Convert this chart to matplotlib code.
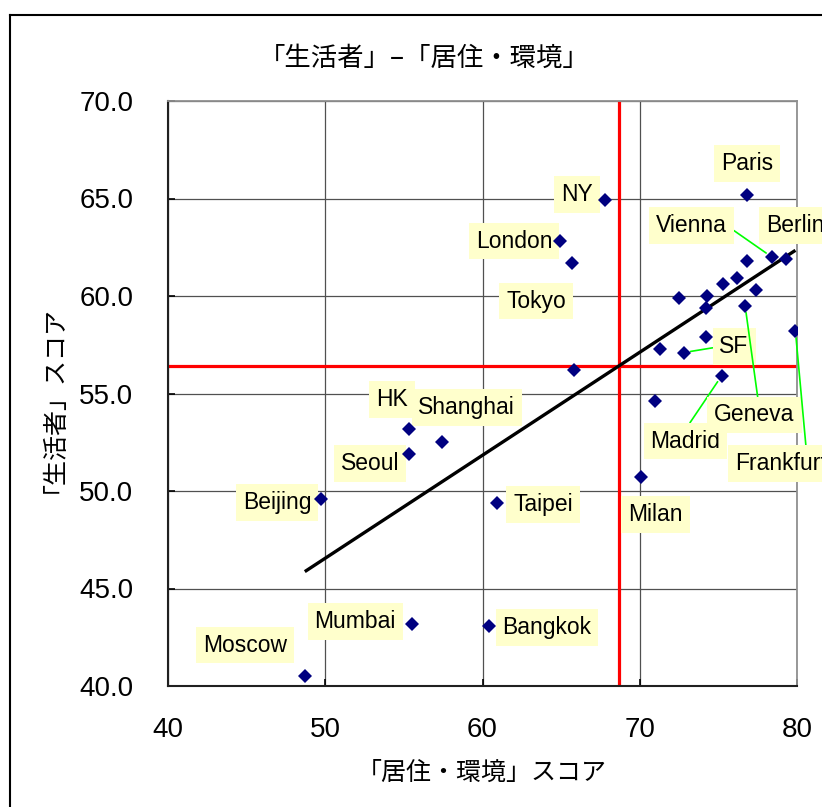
import numpy as np
import matplotlib
matplotlib.use("Agg")
import matplotlib.pyplot as plt
from matplotlib.lines import Line2D
from matplotlib.ticker import FormatStrFormatter, FixedLocator

# City scores: x = 居住・環境 score, y = 生活者 score ("" = unlabeled city)
cities = ["Paris", "NY", "London", "Tokyo", "", "HK", "Shanghai", "Seoul",
          "Beijing", "Taipei", "Mumbai", "Bangkok", "Moscow", "Milan", "",
          "Madrid", "", "SF", "", "", "", "", "", "", "", "Geneva", "",
          "Vienna", "Berlin", "Frankfurt"]
living_env = [76.8, 67.8, 64.9, 65.7, 65.8, 55.3, 57.4, 55.3, 49.7, 60.9,
              55.5, 60.4, 48.7, 70.1, 71.0, 75.2, 71.3, 72.8, 74.2, 72.5,
              74.2, 74.3, 75.3, 76.2, 77.4, 76.7, 76.8, 78.4, 79.3, 79.9]
resident = [65.2, 64.9, 62.8, 61.7, 56.2, 53.2, 52.5, 51.9, 49.6, 49.4,
            43.2, 43.1, 40.5, 50.7, 54.6, 55.9, 57.3, 57.1, 57.9, 59.9,
            59.4, 60.0, 60.6, 60.9, 60.3, 59.5, 61.8, 62.0, 61.9, 58.2]

x_ticks = [40, 50, 60, 70, 80]
y_ticks = [40.0, 45.0, 50.0, 55.0, 60.0, 65.0, 70.0]

title = "「生活者」–「居住・環境」"
x_label = "「居住・環境」スコア"
y_label = "「生活者」スコア"

# Where each city name box sits (data coordinates of the text centre)
label_pos = {
    "Paris": (76.82, 66.8), "NY": (66.0, 65.2), "London": (62.0, 62.82),
    "Tokyo": (63.4, 59.74), "Vienna": (73.3, 63.6), "Berlin": (79.9, 63.6),
    "SF": (76.0, 57.4), "Geneva": (77.3, 53.9), "Madrid": (72.9, 52.56),
    "Frankfurt": (78.97, 51.4), "Milan": (71.0, 48.8), "HK": (54.25, 54.7),
    "Shanghai": (59.0, 54.3), "Seoul": (52.85, 51.4), "Beijing": (46.93, 49.4),
    "Taipei": (63.85, 49.3), "Mumbai": (51.9, 43.3), "Bangkok": (64.1, 43.0),
    "Moscow": (44.9, 42.1),
}
# Leader lines: point on the box where the line leaves it
leader_relpos = {
    "Vienna": (1.0, 0.5), "SF": (0.0, 0.5), "Madrid": (0.5, 1.0),
    "Geneva": (0.55, 1.0), "Frankfurt": (0.78, 1.0),
}

JP = ["Noto Sans CJK JP", "DejaVu Sans"]
LATIN = ["Liberation Sans", "DejaVu Sans"]
plt.rcParams["font.family"] = LATIN

fig = plt.figure(figsize=(8.22, 8.07), dpi=100)
ax = fig.add_axes([168 / 822, 1 - 686 / 807, (797 - 168) / 822, (686 - 101) / 807])

x = np.array(living_env)
y = np.array(resident)

ax.set_xlim(40, 80)
ax.set_ylim(40, 70)
ax.xaxis.set_major_locator(FixedLocator(x_ticks))
ax.yaxis.set_major_locator(FixedLocator(y_ticks))
ax.yaxis.set_major_formatter(FormatStrFormatter("%.1f"))
ax.grid(True, color="#505050", lw=0.9, zorder=0)
ax.set_axisbelow(True)
ax.tick_params(axis="both", direction="in", length=5, width=1.2,
               labelsize=20, colors="black")
ax.tick_params(axis="x", pad=22)
ax.tick_params(axis="y", pad=25)
for side in ("top", "right"):
    ax.spines[side].set_color("#909090")
    ax.spines[side].set_linewidth(1.3)
for side in ("left", "bottom"):
    ax.spines[side].set_color("#202020")
    ax.spines[side].set_linewidth(1.5)

# Averages as red reference lines
ax.axvline(x.mean(), color="#FF0000", lw=2.3, zorder=2)
ax.axhline(y.mean(), color="#FF0000", lw=2.3, zorder=2)

# Linear trend over the data range
slope, intercept = np.polyfit(x, y, 1)
xs = np.array([x.min(), x.max()])
ax.plot(xs, slope * xs + intercept, color="black", lw=2.4, zorder=3,
        solid_capstyle="butt")

ax.plot(x, y, linestyle="none", marker="D", markersize=7.2,
        color="#000080", markeredgewidth=0, zorder=6)

box = dict(boxstyle="square,pad=0.3", fc="#FFFFCC", ec="none")
for name, px, py in zip(cities, living_env, resident):
    if not name:
        continue
    lx, ly = label_pos[name]
    if name in leader_relpos:
        ax.annotate(name, xy=(px, py), xytext=(lx, ly), textcoords="data",
                    ha="center", va="center", fontsize=16.5,
                    bbox=box, zorder=5, annotation_clip=False,
                    arrowprops=dict(arrowstyle="-", color="#00FF00", lw=1.2,
                                    shrinkA=0, shrinkB=5,
                                    relpos=leader_relpos[name]))
    else:
        ax.text(lx, ly, name, ha="center", va="center", fontsize=16.5,
                bbox=box, zorder=5, clip_on=False)

fig.text(424 / 822, 1 - 58 / 807, title, ha="center", va="center",
         fontsize=19, family=JP)
fig.text(482 / 822, 1 - 773 / 807, x_label, ha="center", va="center",
         fontsize=18, family=JP)
fig.text(42 / 822, 1 - 393 / 807, y_label, ha="center", va="center",
         rotation=90, fontsize=18, family=JP)

# Outer chart frame
fig.add_artist(Line2D([10 / 822, 1.0], [1 - 15 / 807, 1 - 15 / 807],
                      transform=fig.transFigure, color="black", lw=1.5))
fig.add_artist(Line2D([10 / 822, 10 / 822], [1 - 15 / 807, 0.0],
                      transform=fig.transFigure, color="black", lw=1.5))

fig.savefig("out.png", dpi=100)
